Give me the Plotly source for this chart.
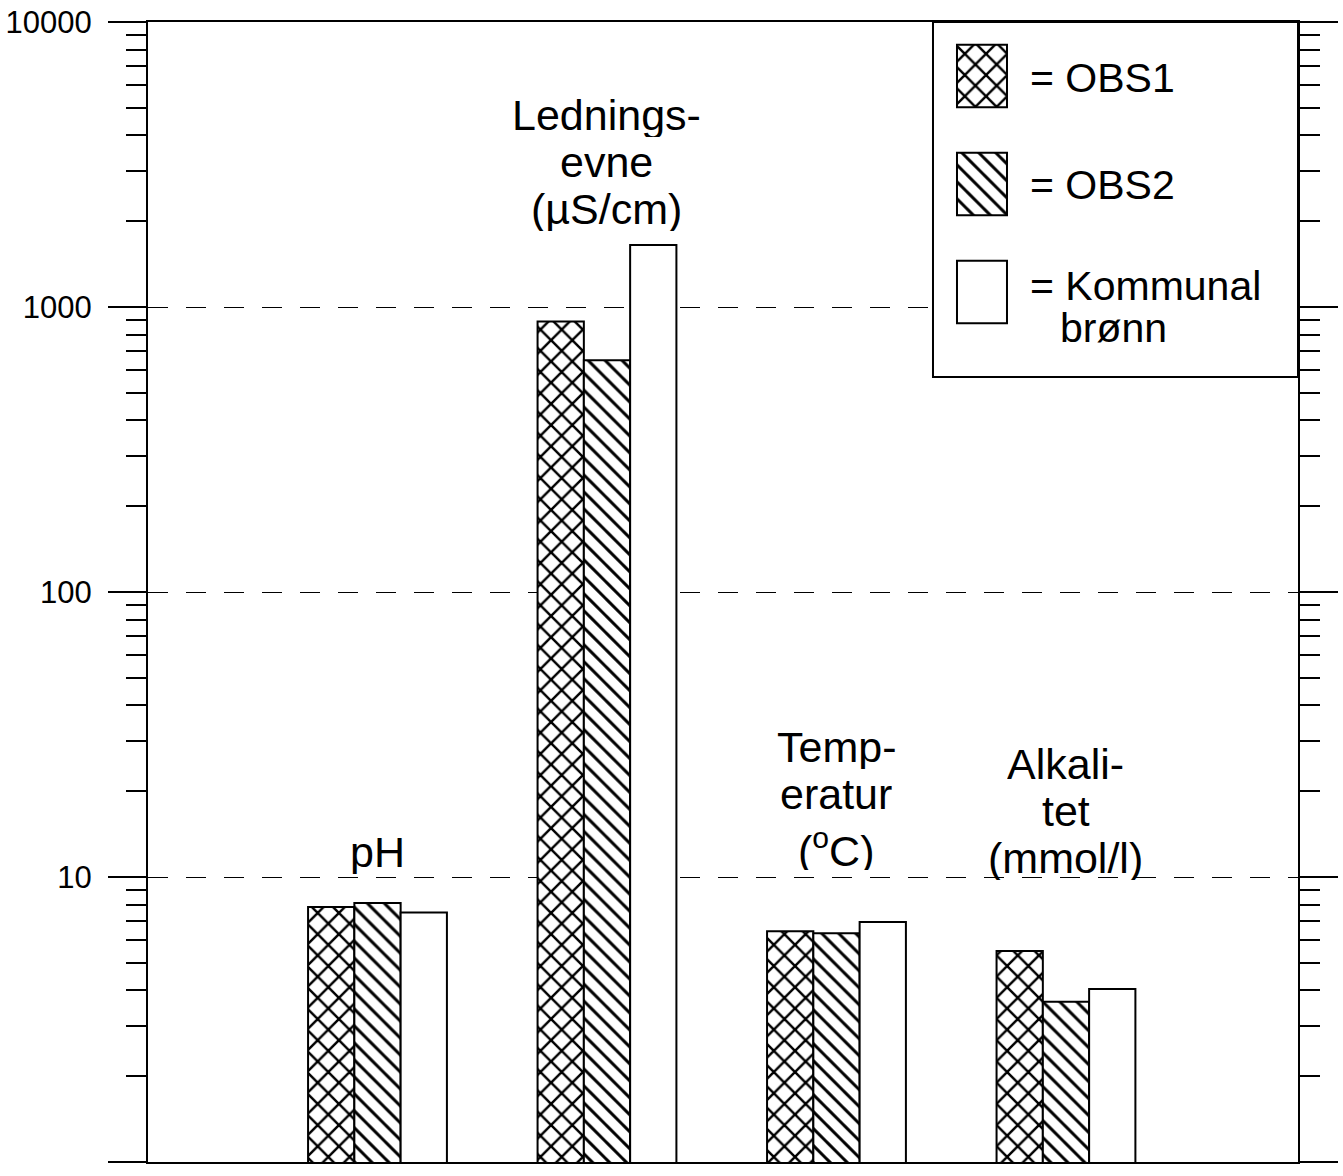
import math
import plotly.graph_objects as go

# ---------------- data ----------------
categories = ["pH", "Ledningsevne", "Temperatur", "Alkalitet"]
category_label_lines = [["pH"], ["Lednings-", "evne", "(µS/cm)"],
                        ["Temp-", "eratur", "(<sup>o</sup>C)"],
                        ["Alkali-", "tet", "(mmol/l)"]]
label_heights = [12.2, 4700, 28.6, 25.0]   # value level of each group label's first line

series_names = ["OBS1", "OBS2", "Kommunal brønn"]
obs1 = [7.85, 890, 6.45, 5.5]
obs2 = [8.1, 650, 6.35, 3.65]
kommunal = [7.5, 1650, 6.95, 4.05]
series_values = [obs1, obs2, kommunal]
series_patterns = ["x", "\\", ""]
pattern_sizes = [15, 12, 8]
pattern_solidity = [0.3, 0.25, 0.2]

y_tickvals = [1, 10, 100, 1000, 10000]
y_ticktext = ["1", "10", "100", "1000", "10000"]
minor_vals = [m * 10 ** d for d in range(4) for m in range(2, 10)]

legend_texts = ["= OBS1", "= OBS2", "= Kommunal"]
legend_second_line = "brønn"

FONT = "Liberation Sans, Arial, sans-serif"
LINE_STEP = 47

fig = go.Figure()

for name, vals, pat, ps, sol in zip(series_names, series_values, series_patterns,
                                    pattern_sizes, pattern_solidity):
    fig.add_trace(go.Bar(
        x=categories, y=vals, name=name, showlegend=False,
        marker=dict(color="white", line=dict(color="black", width=2),
                    pattern=dict(shape=pat, size=ps, solidity=sol, fgopacity=1,
                                 fgcolor="black", bgcolor="white")),
        xaxis="x", yaxis="y",
    ))

# legend swatches on an auxiliary axis inside the legend box
for name, pat, ps, sol in zip(series_names, series_patterns, pattern_sizes, pattern_solidity):
    fig.add_trace(go.Bar(
        x=[1], y=[name], orientation="h", width=0.58, showlegend=False,
        marker=dict(color="white", line=dict(color="black", width=2),
                    pattern=dict(shape=pat, size=ps, solidity=sol, fgopacity=1,
                                 fgcolor="black", bgcolor="white")),
        xaxis="x2", yaxis="y2", hoverinfo="skip",
    ))

LEG_X0, LEG_Y0 = 0.6826, 0.6886

fig.update_layout(
    width=1343, height=1176,
    margin=dict(l=148, r=45, t=22, b=14, autoexpand=False),
    paper_bgcolor="white", plot_bgcolor="white",
    font=dict(family=FONT, color="black", size=31),
    barmode="group", bargap=0.395, bargroupgap=0,
    xaxis=dict(type="category", range=[-1, 4.011], showticklabels=False, ticks="",
               showgrid=False, showline=True, linecolor="black", linewidth=2, mirror=True,
               zeroline=False, domain=[0, 1]),
    yaxis=dict(type="log", range=[0, 4], tickvals=y_tickvals, ticktext=y_ticktext,
               ticks="outside", ticklen=38, tickwidth=2, tickcolor="black",
               ticklabelstandoff=10,
               tickfont=dict(size=31, family=FONT),
               showline=True, linecolor="black", linewidth=2, mirror="ticks",
               showgrid=True, gridcolor="black", gridwidth=1, griddash="20px,18px",
               minor=dict(tickvals=minor_vals, ticks="outside", ticklen=20,
                          tickwidth=2, tickcolor="black", showgrid=False),
               zeroline=False, domain=[0, 1]),
    xaxis2=dict(domain=[LEG_X0, 1], range=[-0.48, 6.82], visible=False, anchor="y2",
                fixedrange=True),
    yaxis2=dict(domain=[LEG_Y0, 1], type="category", categoryarray=series_names,
                range=[2.787, -0.5], visible=False, anchor="x2", fixedrange=True),
)

# legend box: white fill hides the gridline, border drawn on top
fig.add_shape(type="rect", xref="x2 domain", yref="y2 domain", x0=0, x1=1, y0=0, y1=1,
              fillcolor="white", line=dict(width=0), layer="below")
fig.add_shape(type="rect", xref="paper", yref="paper", x0=LEG_X0, x1=1, y0=LEG_Y0, y1=1,
              fillcolor="rgba(0,0,0,0)", line=dict(color="black", width=2), layer="above")

# group labels, one annotation per line
for cat, lines, h in zip(categories, category_label_lines, label_heights):
    for i, line in enumerate(lines):
        extra = 7 if "<sup>" in line else 0
        fig.add_annotation(x=cat, y=math.log10(h), xref="x", yref="y", text=line,
                           showarrow=False, font=dict(size=43, family=FONT),
                           height=LINE_STEP - 3, valign="middle",
                           xanchor="center", yanchor="middle",
                           yshift=-LINE_STEP * i - extra)

# legend texts
legend_y = [0.9509, 0.857, 0.768]
for t, yy in zip(legend_texts, legend_y):
    fig.add_annotation(x=0.765, y=yy, xref="paper", yref="paper", text=t, showarrow=False,
                       font=dict(size=41, family=FONT), xanchor="left", yanchor="middle")
fig.add_annotation(x=0.791, y=0.7316, xref="paper", yref="paper", text=legend_second_line,
                   showarrow=False, font=dict(size=41, family=FONT), xanchor="left",
                   yanchor="middle")

fig.write_html("out.html")
